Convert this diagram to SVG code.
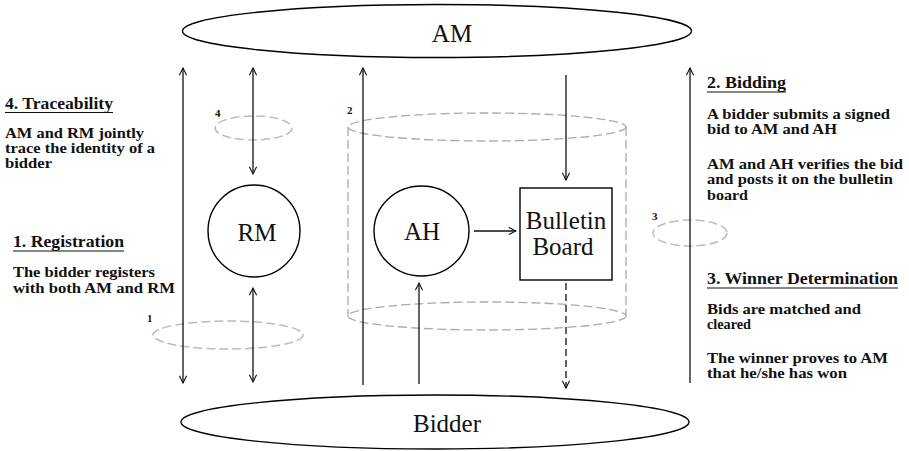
<svg xmlns="http://www.w3.org/2000/svg" width="909" height="451" viewBox="0 0 909 451">
<defs>
<style>
.node{fill:#fff;stroke:#000;stroke-width:1.4}
.serif{font-family:"Liberation Serif","Times New Roman","DejaVu Serif","Noto Serif",serif}
.big{font-size:25px;fill:#111;text-anchor:middle}
.phase{fill:none;stroke:#bbb;stroke-width:1.5;stroke-dasharray:9 4}
.cyl{fill:none;stroke:#aaa;stroke-width:1.3;stroke-dasharray:9 4}
.num{font-size:11px;font-weight:bold;fill:#111}
.head{font-size:17px;font-weight:bold;fill:#111}
.body{font-size:14.5px;font-weight:bold;fill:#111}
.ul{stroke:#111;stroke-width:1.2}
.conn{fill:none;stroke:#111;stroke-width:1.3}
.dash{stroke-dasharray:7 4}
</style>
<marker id="ah" viewBox="0 0 10 10" refX="9" refY="5" markerWidth="9" markerHeight="9" markerUnits="userSpaceOnUse" orient="auto-start-reverse">
<path d="M1,1 L9,5 L1,9" fill="none" stroke="#111" stroke-width="1.2"/>
</marker>
</defs>

<g id="cylinder">
<ellipse class="cyl" cx="487" cy="127" rx="139" ry="14"/>
<path class="cyl" d="M348,127 V316 M626,127 V316"/>
<ellipse class="cyl" cx="487" cy="316" rx="139" ry="14"/>
</g>

<g class="serif" font-family="Liberation Serif, Times New Roman, DejaVu Serif, serif">
<g id="phase1"><ellipse class="phase" cx="228" cy="335" rx="75" ry="14"/><text class="num serif" x="147" y="322">1</text></g>
<g id="phase2"><text class="num serif" x="347" y="114">2</text></g>
<g id="phase3"><ellipse class="phase" cx="690" cy="233" rx="37" ry="13"/><text class="num serif" x="652" y="220">3</text></g>
<g id="phase4"><ellipse class="phase" cx="253.5" cy="128" rx="38.5" ry="12"/><text class="num serif" x="215" y="117">4</text></g>

<g id="AM"><ellipse class="node" cx="437" cy="31" rx="254.5" ry="26.5"/><text class="big serif" x="452" y="42">AM</text></g>
<g id="Bidder"><ellipse class="node" cx="435" cy="422" rx="254" ry="27"/><text class="big serif" x="447" y="432">Bidder</text></g>
<g id="RM"><circle class="node" cx="254" cy="231" r="46"/><text class="big serif" x="257" y="241">RM</text></g>
<g id="AH"><ellipse class="node" cx="421.5" cy="231" rx="47.5" ry="45"/><text class="big serif" x="422" y="240">AH</text></g>
<g id="BulletinBoard"><rect class="node" x="520" y="188" width="92" height="92"/><text class="big serif" x="566" y="229">Bulletin</text><text class="big serif" x="563" y="255">Board</text></g>

<g id="connectors">
<line class="conn" x1="183" y1="68" x2="183" y2="383" marker-start="url(#ah)" marker-end="url(#ah)"/>
<line class="conn" x1="253" y1="68" x2="253" y2="174" marker-start="url(#ah)" marker-end="url(#ah)"/>
<line class="conn" x1="253" y1="288" x2="253" y2="382" marker-start="url(#ah)" marker-end="url(#ah)"/>
<line class="conn" x1="363" y1="385" x2="363" y2="68" marker-end="url(#ah)"/>
<line class="conn" x1="566" y1="75" x2="566" y2="180" marker-end="url(#ah)"/>
<line class="conn" x1="419" y1="384" x2="419" y2="283" marker-end="url(#ah)"/>
<line class="conn dash" x1="566" y1="283" x2="566" y2="388" marker-end="url(#ah)"/>
<line class="conn" x1="690" y1="383" x2="690" y2="68" marker-end="url(#ah)"/>
<line class="conn" x1="474" y1="231" x2="516" y2="231" marker-end="url(#ah)"/>
</g>

<g id="text-traceability">
<text class="head serif" x="5" y="109" textLength="108" lengthAdjust="spacingAndGlyphs">4. Traceability</text>
<line class="ul" x1="5" y1="112.5" x2="113" y2="112.5"/>
<text class="body serif" x="5" y="138" textLength="139" lengthAdjust="spacingAndGlyphs">AM and RM jointly</text>
<text class="body serif" x="5" y="153" textLength="150" lengthAdjust="spacingAndGlyphs">trace the identity of a</text>
<text class="body serif" x="5" y="168" textLength="47" lengthAdjust="spacingAndGlyphs">bidder</text>
</g>
<g id="text-registration">
<text class="head serif" x="13" y="247" textLength="111" lengthAdjust="spacingAndGlyphs">1. Registration</text>
<line class="ul" x1="13" y1="251" x2="124" y2="251"/>
<text class="body serif" x="13" y="277" textLength="142" lengthAdjust="spacingAndGlyphs">The bidder registers</text>
<text class="body serif" x="13" y="293" textLength="162" lengthAdjust="spacingAndGlyphs">with both AM and RM</text>
</g>
<g id="text-bidding">
<text class="head serif" x="707" y="88" textLength="79" lengthAdjust="spacingAndGlyphs">2. Bidding</text>
<line class="ul" x1="707" y1="92" x2="786" y2="92"/>
<text class="body serif" x="707" y="119" textLength="183" lengthAdjust="spacingAndGlyphs">A bidder submits a signed</text>
<text class="body serif" x="707" y="134" textLength="130" lengthAdjust="spacingAndGlyphs">bid to AM and AH</text>
<text class="body serif" x="707" y="169" textLength="196" lengthAdjust="spacingAndGlyphs">AM and AH verifies the bid</text>
<text class="body serif" x="707" y="184" textLength="186" lengthAdjust="spacingAndGlyphs">and posts it on the bulletin</text>
<text class="body serif" x="707" y="200" textLength="41" lengthAdjust="spacingAndGlyphs">board</text>
</g>
<g id="text-winner">
<text class="head serif" x="707" y="284" textLength="191" lengthAdjust="spacingAndGlyphs">3. Winner Determination</text>
<line class="ul" x1="707" y1="288" x2="898" y2="288"/>
<text class="body serif" x="707" y="314" textLength="154" lengthAdjust="spacingAndGlyphs">Bids are matched and</text>
<text class="body serif" x="707" y="329" textLength="44" lengthAdjust="spacingAndGlyphs">cleared</text>
<text class="body serif" x="707" y="363" textLength="181" lengthAdjust="spacingAndGlyphs">The winner proves to AM</text>
<text class="body serif" x="707" y="378" textLength="140" lengthAdjust="spacingAndGlyphs">that he/she has won</text>
</g>
</g>
</svg>
